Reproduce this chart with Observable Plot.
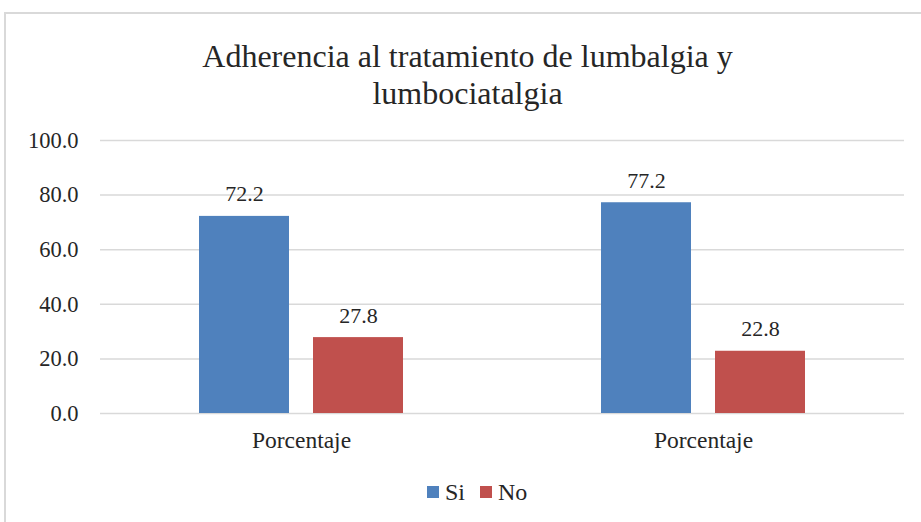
<!DOCTYPE html>
<html><head><meta charset="utf-8">
<script src="https://cdn.jsdelivr.net/npm/d3@7"></script>
<script src="https://cdn.jsdelivr.net/npm/@observablehq/plot@0.6"></script>
<style>
body{margin:0;width:921px;height:522px;overflow:hidden;background:#fff;font-family:"Liberation Serif","DejaVu Serif",serif;}
#frame{position:absolute;left:4px;top:12px;width:1000px;height:600px;border:2px solid #d9d9d9;box-sizing:border-box;}
#title{position:absolute;left:4px;top:38px;width:927px;text-align:center;font-size:32px;line-height:37px;color:#262626;}
#chart{position:absolute;left:0;top:120px;}
#legend{position:absolute;left:427px;top:477px;font-size:24px;line-height:30px;color:#262626;display:flex;align-items:center;}
#legend span.sw{display:inline-block;width:12px;height:12px;margin-right:6px;}
#legend span.lb{margin-right:15px;}
</style></head>
<body>
<div id="frame"></div>
<div id="title">Adherencia al tratamiento de lumbalgia y<br>lumbociatalgia</div>
<div id="chart"></div>
<div id="legend"></div>
<script>
const groups = ["Porcentaje", "Porcentaje"];
const series = ["Si", "No"];
const siValues = [72.2, 77.2];
const noValues = [27.8, 22.8];
const yTicks = [0, 20, 40, 60, 80, 100];
const colors = ["#4F81BD", "#C0504D"];

const rows = [];
groups.forEach((g, i) => {
  rows.push({g: i, s: "Si", v: siValues[i]});
  rows.push({g: i, s: "No", v: noValues[i]});
});

const FONT = '"Liberation Serif","DejaVu Serif",serif';
const chart = Plot.plot({
  width: 921,
  height: 350,
  marginLeft: 100,
  marginRight: 17,
  marginTop: 20,
  marginBottom: 57,
  style: {fontFamily: FONT, fontSize: "22px", color: "#262626", background: "transparent"},
  fx: {domain: [0, 1], padding: 0, label: null, tickFormat: i => groups[i], axis: null},
  x: {domain: series, paddingInner: 0.2087, paddingOuter: 0.8522, axis: null},
  y: {domain: [0, 100], axis: null},
  color: {domain: series, range: colors},
  marks: [
    Plot.ruleY(yTicks, {stroke: "#d9d9d9", strokeWidth: 1.5}),
    Plot.axisY(yTicks, {tickFormat: d3.format(".1f"), tickSize: 0, tickPadding: 22, label: null, fontSize: 22.5, fill: "#262626", fontFamily: FONT, facetAnchor: "left"}),
    Plot.axisFx({tickFormat: i => groups[i], tickSize: 0, tickPadding: 18, label: null, fontSize: 23.5, fill: "#262626", fontFamily: FONT, anchor: "bottom"}),
    Plot.barY(rows, {fx: "g", x: "s", y: "v", fill: "s"}),
    Plot.text(rows, {fx: "g", x: "s", y: "v", text: d => d.v.toFixed(1), lineAnchor: "bottom", dy: -15, fill: "#262626", fontSize: 22, fontFamily: FONT})
  ]
});
document.getElementById("chart").appendChild(chart);

const lg = document.getElementById("legend");
series.forEach((s, i) => {
  const sw = document.createElement("span"); sw.className = "sw"; sw.style.background = colors[i];
  const lb = document.createElement("span"); lb.className = "lb"; lb.textContent = s;
  lg.appendChild(sw); lg.appendChild(lb);
});
</script>
</body></html>
